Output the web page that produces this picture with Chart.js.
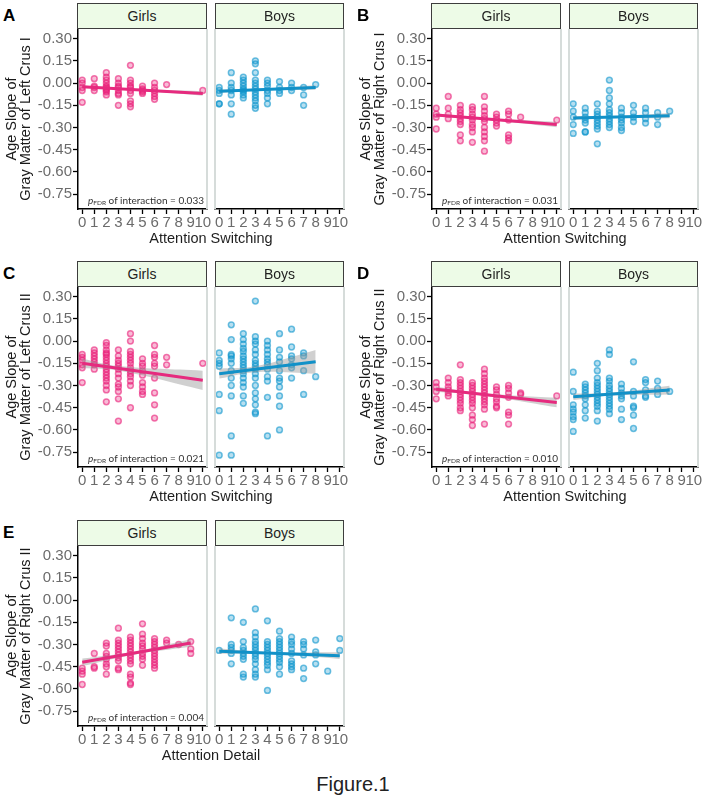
<!DOCTYPE html>
<html>
<head>
<meta charset="utf-8">
<script src="https://cdn.jsdelivr.net/npm/chart.js@4.4.1/dist/chart.umd.min.js"></script>
<style>
  body { margin: 0; background: #fff; }
  #fig { position: relative; width: 704px; height: 797px; overflow: hidden;
         font-family: "Liberation Sans", Arial, sans-serif; }
  #fig canvas { position: absolute; }
  .strip { position: absolute; height: 26px; box-sizing: border-box; border: 1.5px solid #3d3d3d;
           background: #edfbe7; color: #1e1e1e; font-size: 14px; z-index: 2;
           display: flex; align-items: center; justify-content: center; }
  .tag { position: absolute; font-weight: bold; font-size: 17px; line-height: 17px; color: #000; }
  .xtitle { position: absolute; width: 300px; text-align: center; font-size: 14.5px;
            line-height: 16px; color: #1e1e1e; }
  .pnote { position: absolute; width: 140px; text-align: right; font-family: Lato, "Open Sans", sans-serif;
           font-size: 10px; line-height: 10px; color: #333; white-space: nowrap; }
  .pnote sub { font-size: 6.5px; line-height: 0; vertical-align: -1px; }
  .figcap { position: absolute; left: 253px; top: 774px; width: 200px; text-align: center;
            font-size: 20px; line-height: 20px; color: #222; }
</style>
</head>
<body>
<div id="fig">
  <div class="figcap">Figure.1</div>
</div>
<script>
// axis setup shared by every facet
const xTicks = [0, 1, 2, 3, 4, 5, 6, 7, 8, 9, 10];
const yTicks = [0.30, 0.15, 0.00, -0.15, -0.30, -0.45, -0.60, -0.75];
const xRange = [-0.35, 10.35];
const yRange = [-0.85, 0.365];

// points: one list of y values per score (index = score)
const aGirls = [
  [0.02, 0.00, -0.03, -0.05, -0.13],
  [0.03, -0.02, -0.03, -0.05],
  [0.07, 0.04, 0.02, 0.00, -0.02, -0.03, -0.04, -0.05, -0.06, -0.08],
  [0.03, 0.00, -0.02, -0.03, -0.05, -0.07, -0.08, -0.15],
  [0.12, 0.02, 0.00, -0.02, -0.03, -0.05, -0.07, -0.12, -0.14, -0.16],
  [-0.02, -0.04, -0.05, -0.06, -0.07],
  [0.00, -0.03, -0.05, -0.07, -0.09, -0.11],
  [-0.01], [], [],
  [-0.05]
];
const aBoys = [
  [-0.03, -0.05, -0.07, -0.14, -0.14],
  [0.07, 0.00, -0.03, -0.05, -0.08, -0.14, -0.21],
  [0.04, 0.02, 0.00, -0.02, -0.04, -0.05, -0.06, -0.08, -0.10],
  [0.15, 0.13, 0.07, 0.02, 0.00, -0.02, -0.04, -0.06, -0.08, -0.10, -0.12, -0.15, -0.17],
  [0.02, 0.00, -0.02, -0.05, -0.07, -0.10, -0.14],
  [0.01, -0.03, -0.05, -0.07],
  [0.00, -0.03, -0.05],
  [-0.03, -0.08, -0.15],
  [-0.01]
];
const bGirls = [
  [-0.17, -0.21, -0.23, -0.31],
  [-0.09, -0.17, -0.21, -0.24],
  [-0.15, -0.18, -0.20, -0.22, -0.24, -0.26, -0.28, -0.35, -0.39],
  [-0.16, -0.18, -0.21, -0.23, -0.25, -0.28, -0.30, -0.33, -0.40],
  [-0.09, -0.16, -0.19, -0.22, -0.24, -0.26, -0.30, -0.33, -0.36, -0.39, -0.46],
  [-0.21, -0.23, -0.25, -0.27, -0.29],
  [-0.19, -0.21, -0.25, -0.35, -0.37, -0.39],
  [-0.23], [], [],
  [-0.25]
];
const bBoys = [
  [-0.14, -0.19, -0.23, -0.28, -0.34],
  [-0.17, -0.20, -0.23, -0.25, -0.27, -0.33, -0.33],
  [-0.14, -0.19, -0.21, -0.23, -0.25, -0.27, -0.29, -0.31, -0.41],
  [0.02, -0.05, -0.10, -0.14, -0.18, -0.20, -0.22, -0.24, -0.26, -0.28, -0.30],
  [-0.17, -0.20, -0.23, -0.25, -0.27, -0.30, -0.32],
  [-0.15, -0.20, -0.23, -0.26],
  [-0.17, -0.20, -0.24, -0.27],
  [-0.20, -0.23, -0.28],
  [-0.19]
];
const cGirls = [
  [-0.09, -0.11, -0.13, -0.16, -0.18, -0.28],
  [-0.06, -0.08, -0.10, -0.12, -0.14, -0.16, -0.19],
  [-0.01, -0.03, -0.06, -0.08, -0.09, -0.11, -0.13, -0.15, -0.17, -0.19, -0.21, -0.23, -0.25, -0.27, -0.30, -0.33, -0.41],
  [-0.06, -0.10, -0.13, -0.15, -0.17, -0.19, -0.22, -0.25, -0.29, -0.31, -0.34, -0.39, -0.54],
  [0.05, 0.00, -0.07, -0.09, -0.11, -0.13, -0.15, -0.18, -0.20, -0.22, -0.24, -0.27, -0.30, -0.45],
  [-0.12, -0.15, -0.17, -0.20, -0.23, -0.28, -0.31, -0.34, -0.36],
  [-0.03, -0.09, -0.11, -0.15, -0.17, -0.25, -0.35, -0.43, -0.52],
  [-0.11, -0.16], [], [],
  [-0.15]
];
const cBoys = [
  [-0.08, -0.13, -0.15, -0.17, -0.36, -0.47, -0.77],
  [0.11, 0.01, -0.09, -0.10, -0.12, -0.15, -0.20, -0.25, -0.30, -0.37, -0.64, -0.77],
  [0.05, 0.01, -0.02, -0.05, -0.07, -0.10, -0.12, -0.14, -0.16, -0.18, -0.20, -0.22, -0.25, -0.28, -0.31, -0.37, -0.42],
  [0.27, 0.03, 0.00, -0.02, -0.06, -0.09, -0.13, -0.15, -0.17, -0.19, -0.22, -0.25, -0.30, -0.35, -0.39, -0.43, -0.48, -0.49],
  [0.00, -0.03, -0.06, -0.09, -0.12, -0.14, -0.16, -0.19, -0.24, -0.27, -0.38, -0.64],
  [0.05, -0.06, -0.11, -0.14, -0.20, -0.25, -0.27, -0.31, -0.37, -0.44, -0.60],
  [0.08, -0.04, -0.10, -0.12, -0.16, -0.18, -0.25],
  [-0.08, -0.10, -0.20, -0.36],
  [-0.24]
];
const dGirls = [
  [-0.28, -0.31, -0.34, -0.39],
  [-0.25, -0.28, -0.31, -0.33, -0.35, -0.37],
  [-0.16, -0.26, -0.28, -0.30, -0.32, -0.34, -0.36, -0.38, -0.40, -0.42, -0.45, -0.47],
  [-0.28, -0.30, -0.32, -0.34, -0.36, -0.38, -0.40, -0.42, -0.45, -0.50, -0.53, -0.57],
  [-0.19, -0.22, -0.25, -0.27, -0.29, -0.31, -0.33, -0.35, -0.37, -0.39, -0.41, -0.43, -0.46, -0.56],
  [-0.31, -0.33, -0.36, -0.39, -0.41, -0.44, -0.45],
  [-0.30, -0.32, -0.35, -0.38, -0.48, -0.50, -0.56],
  [-0.35, -0.36], [], [],
  [-0.37]
];
const dBoys = [
  [-0.21, -0.34, -0.43, -0.46, -0.48, -0.51, -0.53, -0.61],
  [-0.29, -0.31, -0.33, -0.35, -0.37, -0.39, -0.43, -0.47, -0.52],
  [-0.15, -0.20, -0.25, -0.28, -0.30, -0.32, -0.34, -0.36, -0.38, -0.40, -0.42, -0.44, -0.47, -0.54],
  [-0.06, -0.09, -0.25, -0.27, -0.30, -0.32, -0.34, -0.36, -0.38, -0.40, -0.42, -0.44, -0.46, -0.49],
  [-0.29, -0.32, -0.35, -0.37, -0.39, -0.46, -0.53],
  [-0.14, -0.34, -0.37, -0.44, -0.45, -0.50, -0.59],
  [-0.26, -0.28, -0.33, -0.37, -0.38],
  [-0.27, -0.32, -0.36],
  [-0.34]
];
const eGirls = [
  [-0.46, -0.48, -0.50, -0.57],
  [-0.36, -0.45, -0.46],
  [-0.29, -0.31, -0.36, -0.38, -0.40, -0.43, -0.45, -0.50],
  [-0.19, -0.27, -0.29, -0.31, -0.33, -0.35, -0.37, -0.39, -0.41, -0.46, -0.47],
  [-0.25, -0.27, -0.29, -0.31, -0.33, -0.35, -0.37, -0.39, -0.41, -0.43, -0.50, -0.52, -0.56, -0.57],
  [-0.16, -0.23, -0.26, -0.29, -0.31, -0.33, -0.36, -0.38, -0.40, -0.44],
  [-0.26, -0.28, -0.30, -0.32, -0.34, -0.36, -0.38, -0.40, -0.42, -0.44, -0.46],
  [-0.27, -0.29],
  [-0.30],
  [-0.28, -0.33, -0.36]
];
const eBoys = [
  [-0.34],
  [-0.12, -0.30, -0.32, -0.34, -0.36, -0.43],
  [-0.15, -0.28, -0.32, -0.34, -0.36, -0.38, -0.40, -0.50, -0.52],
  [-0.06, -0.22, -0.25, -0.28, -0.30, -0.32, -0.34, -0.36, -0.38, -0.40, -0.43, -0.47, -0.50, -0.52],
  [-0.14, -0.28, -0.30, -0.32, -0.34, -0.36, -0.38, -0.40, -0.42, -0.44, -0.47, -0.61],
  [-0.21, -0.26, -0.28, -0.30, -0.32, -0.34, -0.36, -0.38, -0.40, -0.42, -0.45, -0.50],
  [-0.25, -0.28, -0.30, -0.33, -0.36, -0.41, -0.43, -0.45, -0.47],
  [-0.28, -0.30, -0.33, -0.37, -0.46, -0.53],
  [-0.27, -0.35, -0.37, -0.43],
  [-0.48],
  [-0.26, -0.34]
];

// regression lines [x, y] and confidence band [x, lower, upper]
const aGirlsFit = [[0, -0.025], [10, -0.070]];
const aGirlsBand = [[0, -0.033, -0.017], [4, -0.047, -0.039], [10, -0.085, -0.055]];
const aBoysFit = [[0, -0.055], [8, -0.030]];
const aBoysBand = [[0, -0.066, -0.044], [3, -0.050, -0.042], [8, -0.045, -0.015]];
const bGirlsFit = [[0, -0.215], [10, -0.280]];
const bGirlsBand = [[0, -0.227, -0.203], [3.5, -0.243, -0.233], [10, -0.298, -0.262]];
const bBoysFit = [[0, -0.235], [8, -0.220]];
const bBoysBand = [[0, -0.248, -0.222], [3, -0.234, -0.224], [8, -0.238, -0.202]];
const cGirlsFit = [[0, -0.150], [10, -0.265]];
const cGirlsBand = [[0, -0.184, -0.120], [3, -0.199, -0.169], [10, -0.330, -0.200]];
const cBoysFit = [[0, -0.220], [8, -0.140]];
const cBoysBand = [[0, -0.253, -0.186], [3, -0.210, -0.170], [8, -0.220, -0.060]];
const dGirlsFit = [[0, -0.325], [10, -0.415]];
const dGirlsBand = [[0, -0.342, -0.308], [3.5, -0.364, -0.348], [10, -0.447, -0.383]];
const dBoysFit = [[0, -0.376], [8, -0.331]];
const dBoysBand = [[0, -0.398, -0.354], [3, -0.369, -0.349], [8, -0.361, -0.301]];
const eGirlsFit = [[0, -0.420], [9, -0.290]];
const eGirlsBand = [[0, -0.445, -0.395], [4.5, -0.365, -0.345], [9, -0.315, -0.265]];
const eBoysFit = [[0, -0.345], [10, -0.375]];
const eBoysBand = [[0, -0.363, -0.327], [4, -0.363, -0.351], [10, -0.397, -0.353]];

const pinkCol = { line: '#e62a7e', edge: 'rgba(233,30,120,0.6)', fill: 'rgba(233,30,120,0.3)' };
const blueCol = { line: '#1191c8', edge: 'rgba(15,150,205,0.6)', fill: 'rgba(15,150,205,0.3)' };

const panels = [
  { tag: 'A', ox: 0, oy: 0, yTitle: ['Age Slope of', 'Gray Matter of Left Crus I'], xTitle: 'Attention Switching', p: '0.033',
    girls: [aGirls, aGirlsFit, aGirlsBand], boys: [aBoys, aBoysFit, aBoysBand] },
  { tag: 'B', ox: 354, oy: 0, yTitle: ['Age Slope of', 'Gray Matter of Right Crus I'], xTitle: 'Attention Switching', p: '0.031',
    girls: [bGirls, bGirlsFit, bGirlsBand], boys: [bBoys, bBoysFit, bBoysBand] },
  { tag: 'C', ox: 0, oy: 258, yTitle: ['Age Slope of', 'Gray Matter of Left Crus II'], xTitle: 'Attention Switching', p: '0.021',
    girls: [cGirls, cGirlsFit, cGirlsBand], boys: [cBoys, cBoysFit, cBoysBand] },
  { tag: 'D', ox: 354, oy: 258, yTitle: ['Age Slope of', 'Gray Matter of Right Crus II'], xTitle: 'Attention Switching', p: '0.010',
    girls: [dGirls, dGirlsFit, dGirlsBand], boys: [dBoys, dBoysFit, dBoysBand] },
  { tag: 'E', ox: 0, oy: 517, yTitle: ['Age Slope of', 'Gray Matter of Right Crus II'], xTitle: 'Attention Detail', p: '0.004',
    girls: [eGirls, eGirlsFit, eGirlsBand], boys: [eBoys, eBoysFit, eBoysBand] }
];

const FONT = '"Liberation Sans", Arial, sans-serif';
const fig = document.getElementById('fig');

// light grey facet borders, like the ggplot panels
const panelFrame = {
  id: 'panelFrame',
  afterDatasetsDraw(chart, args, opts) {
    const { ctx, chartArea: { left, right, top, bottom } } = chart;
    ctx.save();
    ctx.strokeStyle = '#d6dcda';
    ctx.lineWidth = 2;
    ctx.beginPath();
    ctx.moveTo(right, top); ctx.lineTo(right, bottom);
    if (opts.left) { ctx.moveTo(left, top); ctx.lineTo(left, bottom); }
    ctx.stroke();
    ctx.restore();
  }
};

function addDiv(cls, left, top, html, extra) {
  const d = document.createElement('div');
  d.className = cls;
  d.style.left = left + 'px';
  d.style.top = top + 'px';
  if (extra) Object.assign(d.style, extra);
  d.innerHTML = html;
  fig.appendChild(d);
  return d;
}

function addCanvas(left, top, w, h) {
  const c = document.createElement('canvas');
  c.width = w; c.height = h;
  c.style.left = left + 'px'; c.style.top = top + 'px';
  c.style.width = w + 'px'; c.style.height = h + 'px';
  fig.appendChild(c);
  return c;
}

function facet(canvas, [cols, fit, band], col, isGirls, yTitle) {
  const pts = [];
  cols.forEach((ys, x) => ys.forEach(y => pts.push({ x, y })));
  const tickGrid = { drawOnChartArea: false, drawTicks: true, tickLength: 5, tickWidth: 1.3, tickColor: '#000' };
  return new Chart(canvas, {
    type: 'line',
    data: {
      datasets: [
        { data: fit.map(([x, y]) => ({ x, y })), borderColor: col.line, borderWidth: 3,
          pointRadius: 0, tension: 0, order: 1 },
        { data: band.map(([x, lo]) => ({ x, y: lo })), borderColor: 'rgba(0,0,0,0)',
          pointRadius: 0, tension: 0.4, fill: false, order: 2 },
        { data: band.map(([x, , hi]) => ({ x, y: hi })), borderColor: 'rgba(0,0,0,0)',
          pointRadius: 0, tension: 0.4, fill: '-1', backgroundColor: 'rgba(150,150,150,0.45)', order: 2 },
        { data: pts, showLine: false, pointRadius: 2.9, pointBorderWidth: 1.5,
          pointBackgroundColor: col.fill, pointBorderColor: col.edge, order: 3 }
      ]
    },
    options: {
      responsive: false,
      animation: false,
      devicePixelRatio: 1,
      layout: { padding: isGirls ? { top: 29, right: 8, left: 0, bottom: 0 } : { top: 29, right: 8, left: 8, bottom: 0 } },
      plugins: { legend: { display: false }, tooltip: { enabled: false }, panelFrame: { left: !isGirls } },
      scales: {
        x: {
          type: 'linear', min: xRange[0], max: xRange[1],
          afterBuildTicks: s => { s.ticks = xTicks.map(v => ({ value: v })); },
          afterFit: s => { s.height = 30; },
          grid: tickGrid,
          border: { display: true, color: '#000', width: 1.5 },
          ticks: { autoSkip: false, maxRotation: 0, minRotation: 0, padding: 0, color: '#6b6b6b',
                   font: { family: FONT, size: 15 }, callback: v => String(v) }
        },
        y: {
          display: isGirls,
          min: yRange[0], max: yRange[1],
          afterBuildTicks: s => { s.ticks = yTicks.map(v => ({ value: v })); },
          afterFit: s => { s.width = isGirls ? 78 : 0; },
          grid: tickGrid,
          border: { display: true, color: '#000', width: 1.5 },
          ticks: { padding: 1, color: '#6b6b6b', font: { family: FONT, size: 15 }, callback: v => v.toFixed(2) },
          title: { display: true, text: yTitle, color: '#1a1a1a',
                   font: { family: FONT, size: 14.5, lineHeight: 0.98 }, padding: { top: 5, bottom: 0 } }
        }
      }
    },
    plugins: [panelFrame]
  });
}

panels.forEach(p => {
  const { ox, oy } = p;
  addDiv('tag', ox + 3, oy + 7, p.tag);
  addDiv('strip', ox + 77, oy + 3, 'Girls', { width: '130px' });
  addDiv('strip', ox + 215, oy + 3, 'Boys', { width: '129px' });
  facet(addCanvas(ox, oy, 215, 239), p.girls, pinkCol, true, p.yTitle);
  facet(addCanvas(ox + 207, oy, 145, 239), p.boys, blueCol, false, p.yTitle);
  addDiv('xtitle', ox + 61, oy + 230, p.xTitle);
  addDiv('pnote', ox + 64, oy + 195, '<i>p</i><sub>FDR</sub> of interaction = ' + p.p);
});
</script>
</body>
</html>
